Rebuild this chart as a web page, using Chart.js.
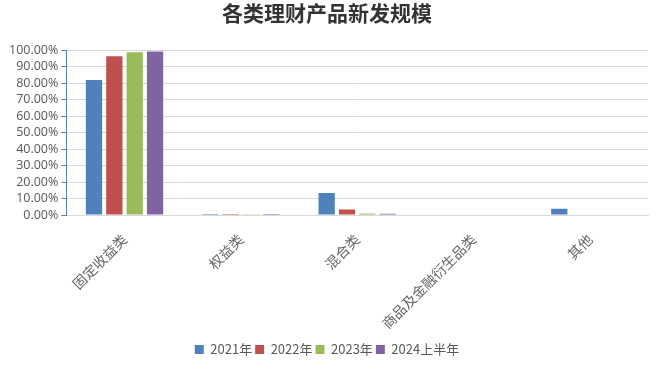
<!DOCTYPE html>
<html>
<head>
<meta charset="utf-8">
<script src="https://cdn.jsdelivr.net/npm/chart.js@4/dist/chart.umd.min.js"></script>
<style>
  html, body { margin: 0; padding: 0; background: #fff; }
  #wrap { width: 660px; height: 366px; position: relative; }
</style>
</head>
<body>
<div id="wrap"><canvas id="c"></canvas></div>
<script>
const categories = ['固定收益类', '权益类', '混合类', '商品及金融衍生品类', '其他'];
const seriesNames = ['2021年', '2022年', '2023年', '2024上半年'];
const v2021 = [81.9, 0.6, 13.4, 0, 3.8];
const v2022 = [96.4, 0.6, 3.4, 0, 0];
const v2023 = [98.8, 0.5, 0.9, 0, 0];
const v2024h1 = [99.2, 0.6, 0.7, 0, 0];
const colors = ['#4F81BD', '#C0504D', '#9BBB59', '#8064A2'];

const CJK = "'Noto Sans CJK SC', sans-serif";

const datasets = [v2021, v2022, v2023, v2024h1].map((data, i) => ({
  label: seriesNames[i],
  data,
  backgroundColor: colors[i],
  borderWidth: 0,
  categoryPercentage: 0.7,
  barPercentage: 0.8,
}));

new Chart(document.getElementById('c'), {
  type: 'bar',
  data: { labels: categories, datasets },
  options: {
    responsive: true,
    maintainAspectRatio: false,
    animation: false,
    layout: { padding: { left: 6, right: 12, top: 0, bottom: 0 } },
    plugins: {
      title: {
        display: true,
        text: '各类理财产品新发规模',
        color: '#333',
        font: { family: CJK, size: 21, weight: 'bold' },
        padding: { top: 0, bottom: 25 },
      },
      legend: {
        position: 'bottom',
        labels: {
          boxWidth: 9,
          boxHeight: 9,
          color: '#595959',
          font: { family: CJK, size: 13 },
          padding: 3,
        },
      },
      tooltip: { enabled: false },
    },
    scales: {
      x: {
        grid: { display: false },
        border: { display: true, color: '#d9d9d9' },
        ticks: {
          color: '#666',
          font: { family: CJK, size: 14 },
          minRotation: 45,
          maxRotation: 45,
          padding: 8,
        },
      },
      y: {
        min: 0,
        max: 100,
        grid: { color: '#d9d9d9', tickColor: '#4F81BD', tickLength: 5 },
        border: { display: true, color: '#4F81BD' },
        ticks: {
          stepSize: 10,
          autoSkip: false,
          color: '#595959',
          font: { family: "'Open Sans', sans-serif", size: 12.5 },
          padding: 3,
          callback: (v) => v.toFixed(2) + '%',
        },
      },
    },
  },
});
</script>
</body>
</html>
